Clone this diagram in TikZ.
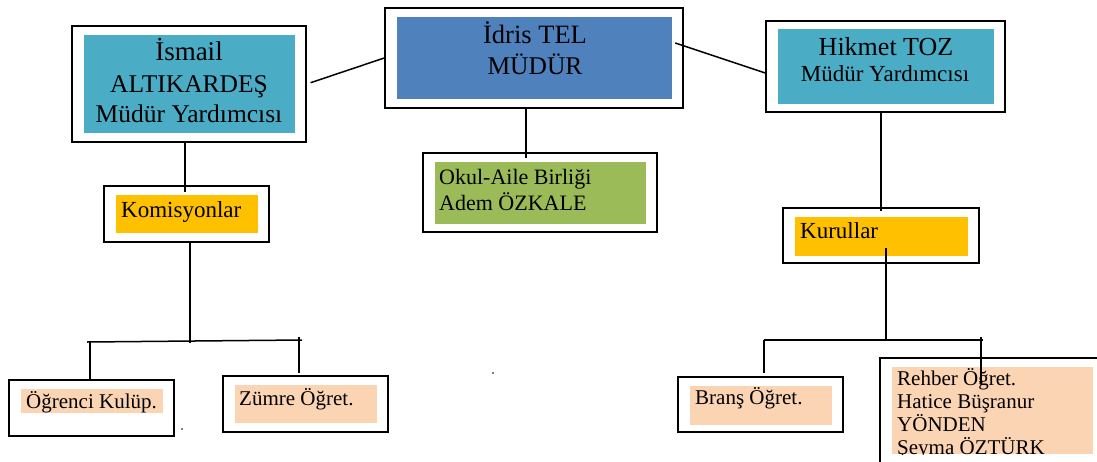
\documentclass[tikz,border=0pt]{standalone}
\usepackage{fontspec}
\setmainfont{Liberation Serif}
\usetikzlibrary{arrows.meta}

\definecolor{mudur_blue}{HTML}{4F81BD}
\definecolor{yard_teal}{HTML}{4BACC6}
\definecolor{kurul_orange}{HTML}{FFC000}
\definecolor{aile_green}{HTML}{9BBB59}
\definecolor{ogret_peach}{HTML}{FBD4B4}

\newcommand{\fbig}{\fontsize{25.5}{30}\selectfont}
\newcommand{\fmid}{\fontsize{23}{27}\selectfont}
\newcommand{\fsmall}{\fontsize{21}{24}\selectfont}

\tikzset{
  box_out/.style 2 args={draw, line width=1.6pt, inner sep=0pt,
    minimum width=#1, minimum height=#2},
  box_in/.style n args={3}{fill=#1, inner sep=0pt,
    minimum width=#2, minimum height=#3},
  lbl/.style={inner sep=0pt, anchor=base},
  lbl_w/.style={inner sep=0pt, anchor=base west},
  con/.style={line width=1.5pt}
}

\begin{document}
\begin{tikzpicture}[x=1pt,y=-1pt]

\useasboundingbox (0,0) rectangle (1097,461) ;
\fill[white] (0,0) rectangle (1097,461) ;
\clip (0,0) rectangle (1097,461) ;

% top row
\node[box_out={234pt}{116pt}] (ismail_out) at (189,84) {} ;
\node[box_in={yard_teal}{211pt}{98pt}] (ismail_in) at (189.5,84) {} ;
\node[lbl,font=\fontsize{27}{30}\selectfont] (ismail_a) at (189,60) {İsmail} ;
\node[lbl,font=\fbig] (ismail_b) at (189,92.5) {ALTIKARDEŞ} ;
\node[lbl,font=\fbig] (ismail_c) at (189,122.5) {Müdür Yardımcısı} ;

\node[box_out={298pt}{100pt}] (mudur_out) at (534,58) {} ;
\node[box_in={mudur_blue}{275pt}{82pt}] (mudur_in) at (534.5,58) {} ;
\node[lbl,font=\fontsize{26.5}{30}\selectfont] (mudur_a) at (535,43.5) {İdris TEL} ;
\node[lbl,font=\fbig] (mudur_b) at (535,74) {MÜDÜR} ;

\node[box_out={239pt}{91pt}] (hikmet_out) at (885.5,66.5) {} ;
\node[box_in={yard_teal}{216pt}{75pt}] (hikmet_in) at (886,66.5) {} ;
\node[lbl,font=\fontsize{26}{30}\selectfont] (hikmet_a) at (886,55) {Hikmet TOZ} ;
\node[lbl,font=\fontsize{23}{27}\selectfont] (hikmet_b) at (885,81.5) {Müdür Yardımcısı} ;

% middle row
\node[box_out={234pt}{79pt}] (okul_out) at (540,192.5) {} ;
\node[box_in={aile_green}{211pt}{62pt}] (okul_in) at (540.5,193) {} ;
\node[lbl_w,font=\fontsize{22}{26}\selectfont] (okul_a) at (439,184) {Okul-Aile Birliği} ;
\node[lbl_w,font=\fontsize{22}{26}\selectfont] (okul_b) at (439,210) {Adem ÖZKALE} ;

\node[box_out={165pt}{56pt}] (kom_out) at (186.5,214) {} ;
\node[box_in={kurul_orange}{142pt}{38pt}] (kom_in) at (187,214) {} ;
\node[lbl_w,font=\fmid] (kom_a) at (121,217) {Komisyonlar} ;

\node[box_out={196pt}{55pt}] (kur_out) at (881,235.5) {} ;
\node[box_in={kurul_orange}{173pt}{39pt}] (kur_in) at (881.5,236.5) {} ;
\node[lbl_w,font=\fmid] (kur_a) at (800,238) {Kurullar} ;

% bottom row
\node[box_out={165pt}{56pt}] (ogr_out) at (91.5,408) {} ;
\node[box_in={ogret_peach}{142pt}{24pt}] (ogr_in) at (92,401) {} ;
\node[lbl_w,font=\fsmall] (ogr_a) at (26,408) {Öğrenci Kulüp.} ;

\node[box_out={165pt}{56pt}] (zum_out) at (305.5,404) {} ;
\node[box_in={ogret_peach}{142pt}{38pt}] (zum_in) at (306,404) {} ;
\node[lbl_w,font=\fsmall] (zum_a) at (239,405) {Zümre Öğret.} ;

\node[box_out={165pt}{55pt}] (brans_out) at (760.5,404.5) {} ;
\node[box_in={ogret_peach}{142pt}{39pt}] (brans_in) at (761,405.5) {} ;
\node[lbl_w,font=\fsmall] (brans_a) at (695,404) {Branş Öğret.} ;

\node[box_out={240pt}{122pt}] (reh_out) at (1000,419) {} ;
\node[box_in={ogret_peach}{201pt}{87pt}] (reh_in) at (992.5,410.5) {} ;
\begin{scope}
\clip (reh_in.north west) rectangle (reh_in.south east) ;
\node[lbl_w,font=\fsmall] (reh_a) at (897,385) {Rehber Öğret.} ;
\node[lbl_w,font=\fsmall] (reh_b) at (897,408) {Hatice Büşranur} ;
\node[lbl_w,font=\fsmall] (reh_c) at (897,431) {YÖNDEN} ;
\node[lbl_w,font=\fsmall] (reh_d) at (897,454) {Şeyma ÖZTÜRK} ;
\end{scope}

% connectors
\draw[con,shorten <=4pt] (ismail_out.east) -- (mudur_out.west) ;
\draw[con] ([xshift=3pt,yshift=15pt]mudur_in.east) -- ([yshift=-6.5pt]hikmet_out.west) ;
\draw[con] ([xshift=-8pt]mudur_out.south) -- ([xshift=-14pt,yshift=-6pt]okul_out.north) ;
\draw[con] ([xshift=-4pt]ismail_out.south) -- ([xshift=-1.5pt,yshift=-7pt]kom_out.north) ;
\draw[con] (hikmet_out.south -| kur_out.north) -- ([yshift=-4pt]kur_out.north) ;

\coordinate (kom_j) at (190,343) ;
\coordinate (kom_l) at (87,342) ;
\coordinate (kom_r) at (302,340) ;
\draw[con] ([xshift=3.5pt]kom_out.south) -- (kom_j) ;
\draw[con] (kom_l) -- (kom_r) ;
\draw[con] ([xshift=3pt]kom_l) -- ([xshift=-1.5pt]ogr_out.north) ;
\draw[con] ([xshift=-3pt,yshift=3pt]kom_r) -- ([xshift=-6.5pt,yshift=2pt]zum_out.north) ;

\coordinate (kur_s) at (886,248) ;
\coordinate (kur_j) at (886,340) ;
\coordinate (kur_l) at (764,340) ;
\coordinate (kur_r) at (983,340) ;
\coordinate (reh_top) at (981,385) ;
\draw[con] (kur_s) -- (kur_j) ;
\draw[con] (kur_l) -- (kur_r) ;
\draw[con] (kur_l) -- ([xshift=3.5pt,yshift=3pt]brans_out.north) ;
\draw[con,-{Stealth[length=4pt,width=4pt]}] ([xshift=-2pt,yshift=3pt]kur_r) -- (reh_top) ;

% stray specks
\fill[gray] (181,428) rectangle (183,430) ;
\fill[gray] (492,372) rectangle (494,374) ;

\end{tikzpicture}
\end{document}
